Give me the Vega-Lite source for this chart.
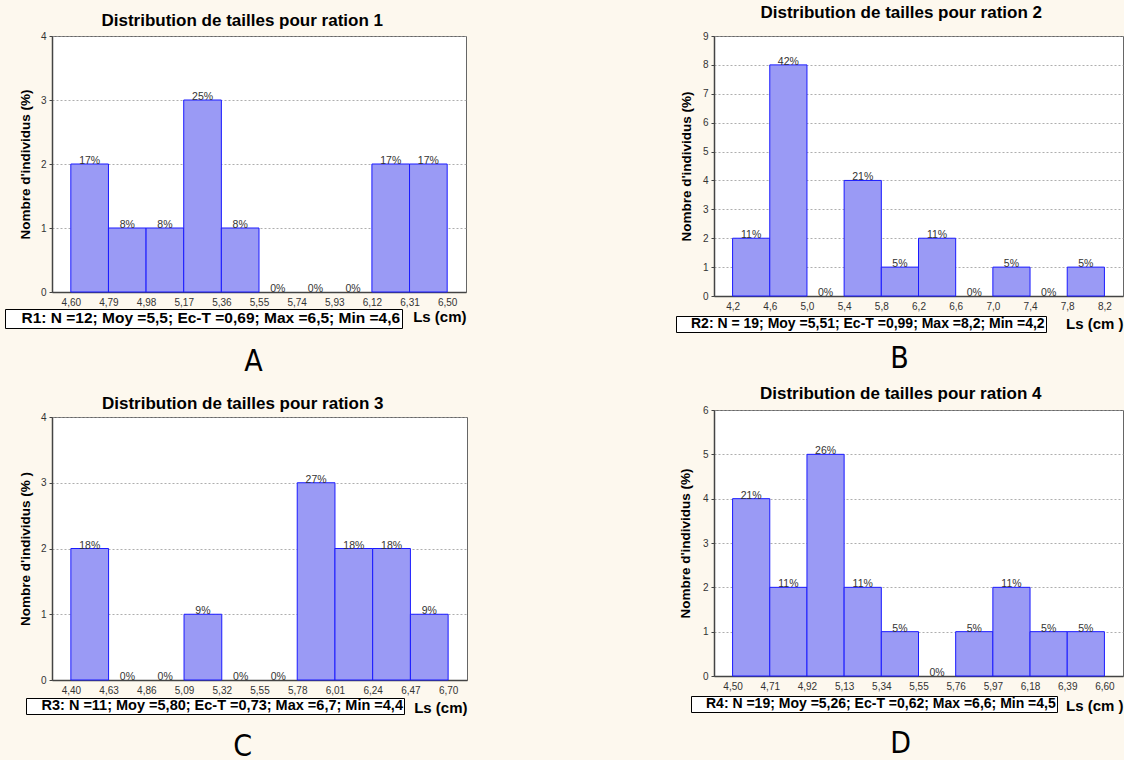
{
  "$schema": "https://vega.github.io/schema/vega-lite/v6.json",
  "background": "#fdf8ee",
  "padding": {"left": 4, "top": 3, "right": 0, "bottom": 0},
  "datasets": {
    "r1": [
      {"lo": 4.60, "hi": 4.79, "mid": 4.695, "n": 2, "pct": "17%"},
      {"lo": 4.79, "hi": 4.98, "mid": 4.885, "n": 1, "pct": "8%"},
      {"lo": 4.98, "hi": 5.17, "mid": 5.075, "n": 1, "pct": "8%"},
      {"lo": 5.17, "hi": 5.36, "mid": 5.265, "n": 3, "pct": "25%"},
      {"lo": 5.36, "hi": 5.55, "mid": 5.455, "n": 1, "pct": "8%"},
      {"lo": 5.55, "hi": 5.74, "mid": 5.645, "n": 0, "pct": "0%"},
      {"lo": 5.74, "hi": 5.93, "mid": 5.835, "n": 0, "pct": "0%"},
      {"lo": 5.93, "hi": 6.12, "mid": 6.025, "n": 0, "pct": "0%"},
      {"lo": 6.12, "hi": 6.31, "mid": 6.215, "n": 2, "pct": "17%"},
      {"lo": 6.31, "hi": 6.50, "mid": 6.405, "n": 2, "pct": "17%"}
    ],
    "r2": [
      {"lo": 4.2, "hi": 4.6, "mid": 4.4, "n": 2, "pct": "11%"},
      {"lo": 4.6, "hi": 5.0, "mid": 4.8, "n": 8, "pct": "42%"},
      {"lo": 5.0, "hi": 5.4, "mid": 5.2, "n": 0, "pct": "0%"},
      {"lo": 5.4, "hi": 5.8, "mid": 5.6, "n": 4, "pct": "21%"},
      {"lo": 5.8, "hi": 6.2, "mid": 6.0, "n": 1, "pct": "5%"},
      {"lo": 6.2, "hi": 6.6, "mid": 6.4, "n": 2, "pct": "11%"},
      {"lo": 6.6, "hi": 7.0, "mid": 6.8, "n": 0, "pct": "0%"},
      {"lo": 7.0, "hi": 7.4, "mid": 7.2, "n": 1, "pct": "5%"},
      {"lo": 7.4, "hi": 7.8, "mid": 7.6, "n": 0, "pct": "0%"},
      {"lo": 7.8, "hi": 8.2, "mid": 8.0, "n": 1, "pct": "5%"}
    ],
    "r3": [
      {"lo": 4.40, "hi": 4.63, "mid": 4.515, "n": 2, "pct": "18%"},
      {"lo": 4.63, "hi": 4.86, "mid": 4.745, "n": 0, "pct": "0%"},
      {"lo": 4.86, "hi": 5.09, "mid": 4.975, "n": 0, "pct": "0%"},
      {"lo": 5.09, "hi": 5.32, "mid": 5.205, "n": 1, "pct": "9%"},
      {"lo": 5.32, "hi": 5.55, "mid": 5.435, "n": 0, "pct": "0%"},
      {"lo": 5.55, "hi": 5.78, "mid": 5.665, "n": 0, "pct": "0%"},
      {"lo": 5.78, "hi": 6.01, "mid": 5.895, "n": 3, "pct": "27%"},
      {"lo": 6.01, "hi": 6.24, "mid": 6.125, "n": 2, "pct": "18%"},
      {"lo": 6.24, "hi": 6.47, "mid": 6.355, "n": 2, "pct": "18%"},
      {"lo": 6.47, "hi": 6.70, "mid": 6.585, "n": 1, "pct": "9%"}
    ],
    "r4": [
      {"lo": 4.50, "hi": 4.71, "mid": 4.605, "n": 4, "pct": "21%"},
      {"lo": 4.71, "hi": 4.92, "mid": 4.815, "n": 2, "pct": "11%"},
      {"lo": 4.92, "hi": 5.13, "mid": 5.025, "n": 5, "pct": "26%"},
      {"lo": 5.13, "hi": 5.34, "mid": 5.235, "n": 2, "pct": "11%"},
      {"lo": 5.34, "hi": 5.55, "mid": 5.445, "n": 1, "pct": "5%"},
      {"lo": 5.55, "hi": 5.76, "mid": 5.655, "n": 0, "pct": "0%"},
      {"lo": 5.76, "hi": 5.97, "mid": 5.865, "n": 1, "pct": "5%"},
      {"lo": 5.97, "hi": 6.18, "mid": 6.075, "n": 2, "pct": "11%"},
      {"lo": 6.18, "hi": 6.39, "mid": 6.285, "n": 1, "pct": "5%"},
      {"lo": 6.39, "hi": 6.60, "mid": 6.495, "n": 1, "pct": "5%"}
    ],
    "s1": [{"t": "R1: N =12; Moy =5,5; Ec-T =0,69; Max =6,5; Min =4,6"}],
    "s2": [{"t": "R2: N = 19; Moy =5,51; Ec-T =0,99; Max =8,2; Min =4,2"}],
    "s3": [{"t": "R3: N =11; Moy =5,80; Ec-T =0,73; Max =6,7; Min =4,4"}],
    "s4": [{"t": "R4: N =19; Moy =5,26; Ec-T =0,62; Max =6,6; Min =4,5"}]
  },
  "resolve": {"scale": {"color": "independent"}, "legend": {"color": "independent"}},
  "hconcat": [
    {
      "resolve": {"scale": {"color": "independent"}, "legend": {"color": "independent"}},
      "vconcat": [
        {
          "vconcat": [
            {
              "width": 414, "height": 256,
              "view": {"fill": "white", "stroke": "#666"},
              "title": {"text": "Distribution de tailles pour ration 1", "offset": 1},
              "layer": [
                {
                  "data": {"name": "r1"},
                  "transform": [{"filter": "datum.n > 0"}],
                  "mark": {"type": "bar", "fill": "#9a9af5", "stroke": "#1a1aff", "strokeWidth": 1},
                  "encoding": {
                    "x": {"field": "lo", "type": "quantitative", "scale": {"domain": [4.505, 6.595], "nice": false, "zero": false},
                      "axis": {"values": [4.6, 4.79, 4.98, 5.17, 5.36, 5.55, 5.74, 5.93, 6.12, 6.31, 6.5], "labelExpr": "replace(format(datum.value, '.2f'), '.', ',')", "title": "Ls (cm)", "titlePadding": 2.5}},
                    "x2": {"field": "hi"},
                    "y": {"field": "n", "type": "quantitative", "scale": {"domain": [0, 4], "nice": false},
                      "axis": {"values": [0, 1, 2, 3, 4], "format": "d", "title": "Nombre d'individus (%)", "titlePadding": 8}},
                    "y2": {"datum": 0}
                  }
                },
                {
                  "data": {"name": "r1"},
                  "mark": {"type": "text", "baseline": "bottom", "dy": 2, "fontSize": 10.5, "color": "#333"},
                  "encoding": {
                    "x": {"field": "mid", "type": "quantitative",
                      "axis": {"values": [4.6, 4.79, 4.98, 5.17, 5.36, 5.55, 5.74, 5.93, 6.12, 6.31, 6.5], "labelExpr": "replace(format(datum.value, '.2f'), '.', ',')", "title": "Ls (cm)", "titlePadding": 2.5}},
                    "y": {"field": "n", "type": "quantitative",
                      "axis": {"values": [0, 1, 2, 3, 4], "format": "d", "title": "Nombre d'individus (%)", "titlePadding": 8}},
                    "text": {"field": "pct"}
                  }
                },
                {
                  "data": {"name": "s1"},
                  "mark": {"type": "point", "opacity": 0},
                  "encoding": {
                    "color": {"field": "t", "type": "nominal", "scale": {"range": ["transparent"]},
                      "legend": {"orient": "none", "legendX": -47, "legendY": 273, "title": null, "labelFontSize": 15.5}}
                  }
                }
              ]
            }
          ],
          "title": {"text": "A", "orient": "bottom", "offset": 18, "dx": 18, "font": "Liberation Sans Narrow, DejaVu Sans Condensed", "fontSize": 30, "fontWeight": "normal"}
        },
        {
          "vconcat": [
            {
              "width": 415, "height": 263,
              "view": {"fill": "white", "stroke": "#666"},
              "title": {"text": "Distribution de tailles pour ration 3", "offset": -1},
              "layer": [
                {
                  "data": {"name": "r3"},
                  "transform": [{"filter": "datum.n > 0"}],
                  "mark": {"type": "bar", "fill": "#9a9af5", "stroke": "#1a1aff", "strokeWidth": 1},
                  "encoding": {
                    "x": {"field": "lo", "type": "quantitative", "scale": {"domain": [4.285, 6.815], "nice": false, "zero": false},
                      "axis": {"values": [4.4, 4.63, 4.86, 5.09, 5.32, 5.55, 5.78, 6.01, 6.24, 6.47, 6.7], "labelExpr": "replace(format(datum.value, '.2f'), '.', ',')", "title": "Ls (cm)", "titlePadding": 5.5}},
                    "x2": {"field": "hi"},
                    "y": {"field": "n", "type": "quantitative", "scale": {"domain": [0, 4], "nice": false},
                      "axis": {"values": [0, 1, 2, 3, 4], "format": "d", "title": "Nombre d'individus (% )", "titlePadding": 8}},
                    "y2": {"datum": 0}
                  }
                },
                {
                  "data": {"name": "r3"},
                  "mark": {"type": "text", "baseline": "bottom", "dy": 2, "fontSize": 10.5, "color": "#333"},
                  "encoding": {
                    "x": {"field": "mid", "type": "quantitative",
                      "axis": {"values": [4.4, 4.63, 4.86, 5.09, 5.32, 5.55, 5.78, 6.01, 6.24, 6.47, 6.7], "labelExpr": "replace(format(datum.value, '.2f'), '.', ',')", "title": "Ls (cm)", "titlePadding": 5.5}},
                    "y": {"field": "n", "type": "quantitative",
                      "axis": {"values": [0, 1, 2, 3, 4], "format": "d", "title": "Nombre d'individus (% )", "titlePadding": 8}},
                    "text": {"field": "pct"}
                  }
                },
                {
                  "data": {"name": "s3"},
                  "mark": {"type": "point", "opacity": 0},
                  "encoding": {
                    "color": {"field": "t", "type": "nominal", "scale": {"range": ["transparent"]},
                      "legend": {"orient": "none", "legendX": -26, "legendY": 281, "title": null, "labelFontSize": 14.5}}
                  }
                }
              ]
            }
          ],
          "title": {"text": "C", "orient": "bottom", "offset": 16, "font": "Liberation Sans Narrow, DejaVu Sans Condensed", "fontSize": 30, "fontWeight": "normal"}
        }
      ],
      "spacing": 17
    },
    {
      "resolve": {"scale": {"color": "independent"}, "legend": {"color": "independent"}},
      "vconcat": [
        {
          "vconcat": [
            {
              "width": 409, "height": 260,
              "view": {"fill": "white", "stroke": "#666"},
              "title": {"text": "Distribution de tailles pour ration 2", "offset": 9},
              "layer": [
                {
                  "data": {"name": "r2"},
                  "transform": [{"filter": "datum.n > 0"}],
                  "mark": {"type": "bar", "fill": "#9a9af5", "stroke": "#1a1aff", "strokeWidth": 1},
                  "encoding": {
                    "x": {"field": "lo", "type": "quantitative", "scale": {"domain": [4.0, 8.4], "nice": false, "zero": false},
                      "axis": {"values": [4.2, 4.6, 5.0, 5.4, 5.8, 6.2, 6.6, 7.0, 7.4, 7.8, 8.2], "labelExpr": "replace(format(datum.value, '.1f'), '.', ',')", "title": "Ls  (cm )", "titlePadding": 5.5}},
                    "x2": {"field": "hi"},
                    "y": {"field": "n", "type": "quantitative", "scale": {"domain": [0, 9], "nice": false},
                      "axis": {"values": [0, 1, 2, 3, 4, 5, 6, 7, 8, 9], "format": "d", "title": "Nombre d'individus (%)", "titlePadding": 9}},
                    "y2": {"datum": 0}
                  }
                },
                {
                  "data": {"name": "r2"},
                  "mark": {"type": "text", "baseline": "bottom", "dy": 2, "fontSize": 10.5, "color": "#333"},
                  "encoding": {
                    "x": {"field": "mid", "type": "quantitative",
                      "axis": {"values": [4.2, 4.6, 5.0, 5.4, 5.8, 6.2, 6.6, 7.0, 7.4, 7.8, 8.2], "labelExpr": "replace(format(datum.value, '.1f'), '.', ',')", "title": "Ls  (cm )", "titlePadding": 5.5}},
                    "y": {"field": "n", "type": "quantitative",
                      "axis": {"values": [0, 1, 2, 3, 4, 5, 6, 7, 8, 9], "format": "d", "title": "Nombre d'individus (%)", "titlePadding": 9}},
                    "text": {"field": "pct"}
                  }
                },
                {
                  "data": {"name": "s2"},
                  "mark": {"type": "point", "opacity": 0},
                  "encoding": {
                    "color": {"field": "t", "type": "nominal", "scale": {"range": ["transparent"]},
                      "legend": {"orient": "none", "legendX": -38, "legendY": 280, "title": null, "labelFontSize": 14}}
                  }
                }
              ]
            }
          ],
          "title": {"text": "B", "orient": "bottom", "offset": 11, "font": "Liberation Sans Narrow, DejaVu Sans Condensed", "fontSize": 30, "fontWeight": "normal"}
        },
        {
          "vconcat": [
            {
              "width": 409, "height": 266,
              "view": {"fill": "white", "stroke": "#666"},
              "title": {"text": "Distribution de tailles pour ration 4", "offset": 2},
              "layer": [
                {
                  "data": {"name": "r4"},
                  "transform": [{"filter": "datum.n > 0"}],
                  "mark": {"type": "bar", "fill": "#9a9af5", "stroke": "#1a1aff", "strokeWidth": 1},
                  "encoding": {
                    "x": {"field": "lo", "type": "quantitative", "scale": {"domain": [4.395, 6.705], "nice": false, "zero": false},
                      "axis": {"values": [4.5, 4.71, 4.92, 5.13, 5.34, 5.55, 5.76, 5.97, 6.18, 6.39, 6.6], "labelExpr": "replace(format(datum.value, '.2f'), '.', ',')", "title": "Ls (cm )", "titlePadding": 7.5}},
                    "x2": {"field": "hi"},
                    "y": {"field": "n", "type": "quantitative", "scale": {"domain": [0, 6], "nice": false},
                      "axis": {"values": [0, 1, 2, 3, 4, 5, 6], "format": "d", "title": "Nombre d'individus (%)", "titlePadding": 10}},
                    "y2": {"datum": 0}
                  }
                },
                {
                  "data": {"name": "r4"},
                  "mark": {"type": "text", "baseline": "bottom", "dy": 2, "fontSize": 10.5, "color": "#333"},
                  "encoding": {
                    "x": {"field": "mid", "type": "quantitative",
                      "axis": {"values": [4.5, 4.71, 4.92, 5.13, 5.34, 5.55, 5.76, 5.97, 6.18, 6.39, 6.6], "labelExpr": "replace(format(datum.value, '.2f'), '.', ',')", "title": "Ls (cm )", "titlePadding": 7.5}},
                    "y": {"field": "n", "type": "quantitative",
                      "axis": {"values": [0, 1, 2, 3, 4, 5, 6], "format": "d", "title": "Nombre d'individus (%)", "titlePadding": 10}},
                    "text": {"field": "pct"}
                  }
                },
                {
                  "data": {"name": "s4"},
                  "mark": {"type": "point", "opacity": 0},
                  "encoding": {
                    "color": {"field": "t", "type": "nominal", "scale": {"range": ["transparent"]},
                      "legend": {"orient": "none", "legendX": -23, "legendY": 286, "title": null, "labelFontSize": 14}}
                  }
                }
              ]
            }
          ],
          "title": {"text": "D", "orient": "bottom", "offset": 15, "font": "Liberation Sans Narrow, DejaVu Sans Condensed", "fontSize": 30, "fontWeight": "normal"}
        }
      ],
      "spacing": 10
    }
  ],
  "spacing": 207,
  "config": {
    "font": "Liberation Sans",
    "title": {"font": "Liberation Sans", "fontSize": 17, "fontWeight": "bold", "color": "#000", "anchor": "middle", "frame": "bounds"},
    "axis": {"labelFont": "Liberation Sans", "labelColor": "#333", "titleFont": "Liberation Sans", "titleFontWeight": "bold", "titleColor": "#000", "domainColor": "#444", "domainWidth": 1.5, "tickColor": "#444", "labelOverlap": false, "labelFlush": false, "labelBound": false},
    "axisX": {"grid": false, "ticks": false, "labelFontSize": 10, "labelPadding": 5, "titleFontSize": 15, "titleAnchor": "end"},
    "axisY": {"grid": true, "gridColor": "#999", "gridDash": [2, 2], "gridWidth": 0.8, "tickSize": 3, "labelFontSize": 10, "labelPadding": 3, "titleFontSize": 13.5},
    "legend": {"labelFont": "Liberation Sans", "labelFontSize": 14, "labelFontWeight": "bold", "labelColor": "#000", "labelLimit": 0, "symbolSize": 0, "symbolOpacity": 0, "symbolStrokeWidth": 0, "labelOffset": 0, "strokeColor": "#000", "fillColor": "#fff", "padding": 1}
  }
}
